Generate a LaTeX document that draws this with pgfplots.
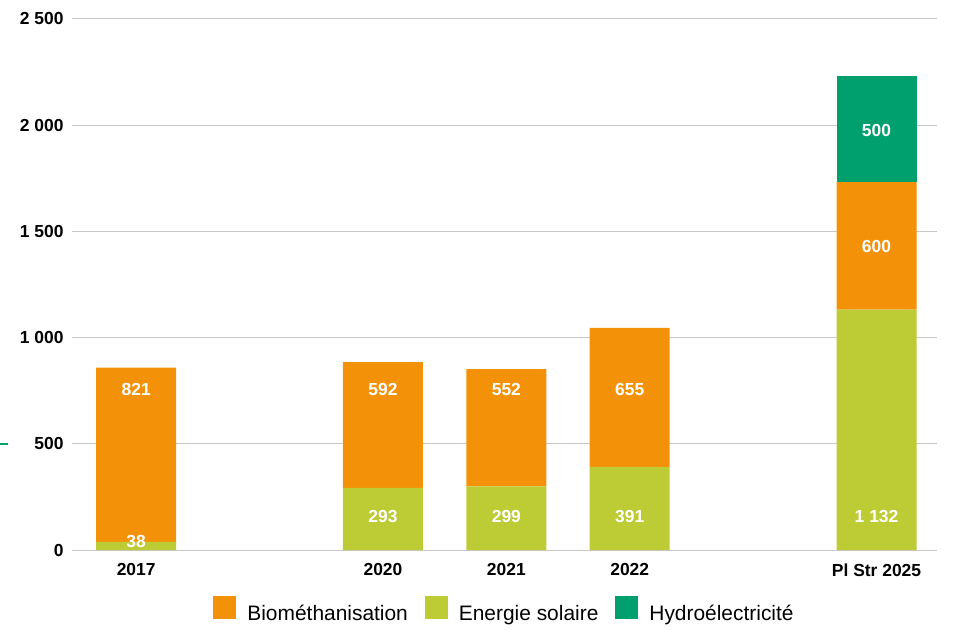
\documentclass[border=0pt]{standalone}
\usepackage{pgfplots}
\pgfplotsset{compat=1.18}
\usepackage{fontspec}
\setmainfont{Liberation Sans}
\definecolor{bio}{HTML}{F39208}
\definecolor{sol}{HTML}{BDCB35}
\definecolor{hyd}{HTML}{00A06E}
\definecolor{gridc}{HTML}{C8C8C8}
\begin{document}
\begin{tikzpicture}[lbl/.style={text=white, font=\fontsize{17.5}{20}\selectfont\bfseries}]
\begin{axis}[
    at={(0bp,0bp)}, anchor=south west,
    scale only axis,
    width=865bp, height=531bp,
    ybar stacked,
    bar width=80bp,
    xmin=-0.52, xmax=6.49,
    ymin=0, ymax=2500,
    axis line style={draw=none},
    tick style={draw=none},
    ymajorgrids,
    grid style={gridc, line width=1bp},
    ytick={0,500,1000,1500,2000,2500},
    xtick={0,2,3,4,6},
    xticklabels={2017,2020,2021,2022,Pl Str 2025},
    /pgf/number format/assume math mode=true,
    /pgf/number format/1000 sep={\ },
    ticklabel style={font=\fontsize{17.5}{20}\selectfont\bfseries},
    yticklabel style={xshift=-5bp},
    xticklabel style={yshift=-10bp},
    legend style={at={(0.5,-0.087)}, anchor=north, draw=none, legend columns=3,
        font=\fontsize{21}{25}\selectfont, inner sep=0bp,
        /tikz/every odd column/.append style={column sep=9bp},
        /tikz/every even column/.append style={column sep=15bp}},
    legend image code/.code={\fill[#1, draw=none] (0bp,-6bp) rectangle (23bp,17bp);},
    clip=false,
]
\addlegendimage{fill=bio}
\addlegendentry{Biométhanisation}
\addlegendimage{fill=sol}
\addlegendentry{Energie solaire}
\addlegendimage{fill=hyd}
\addlegendentry{Hydroélectricité}
\addplot[fill=sol, draw=none, forget plot] coordinates {(0,38) (2,293) (3,299) (4,391) (6,1132)};
\addplot[fill=bio, draw=none, forget plot] coordinates {(0,821) (2,592) (3,552) (4,655) (6,600)};
\addplot[fill=hyd, draw=none, forget plot] coordinates {(0,0) (2,0) (3,0) (4,0) (6,500)};
\coordinate (b0) at (axis cs:0,758);
\coordinate (s0) at (axis cs:0,42);
\coordinate (b2) at (axis cs:2,758);
\coordinate (s2) at (axis cs:2,160);
\coordinate (b3) at (axis cs:3,758);
\coordinate (s3) at (axis cs:3,160);
\coordinate (b4) at (axis cs:4,758);
\coordinate (s4) at (axis cs:4,160);
\coordinate (s6) at (axis cs:6,160);
\coordinate (b6) at (axis cs:6,1431);
\coordinate (h6) at (axis cs:6,1977);
\end{axis}
\node[lbl] at (b0) {821};
\node[lbl] at (s0) {38};
\node[lbl] at (b2) {592};
\node[lbl] at (s2) {293};
\node[lbl] at (b3) {552};
\node[lbl] at (s3) {299};
\node[lbl] at (b4) {655};
\node[lbl] at (s4) {391};
\node[lbl] at (s6) {1 132};
\node[lbl] at (b6) {600};
\node[lbl] at (h6) {500};
\draw[hyd, line width=1.2bp] (-72bp,106bp) -- (-64bp,106bp);
\pgfresetboundingbox
\useasboundingbox (-72bp,-80bp) rectangle (883bp,550bp);
\end{tikzpicture}
\end{document}
